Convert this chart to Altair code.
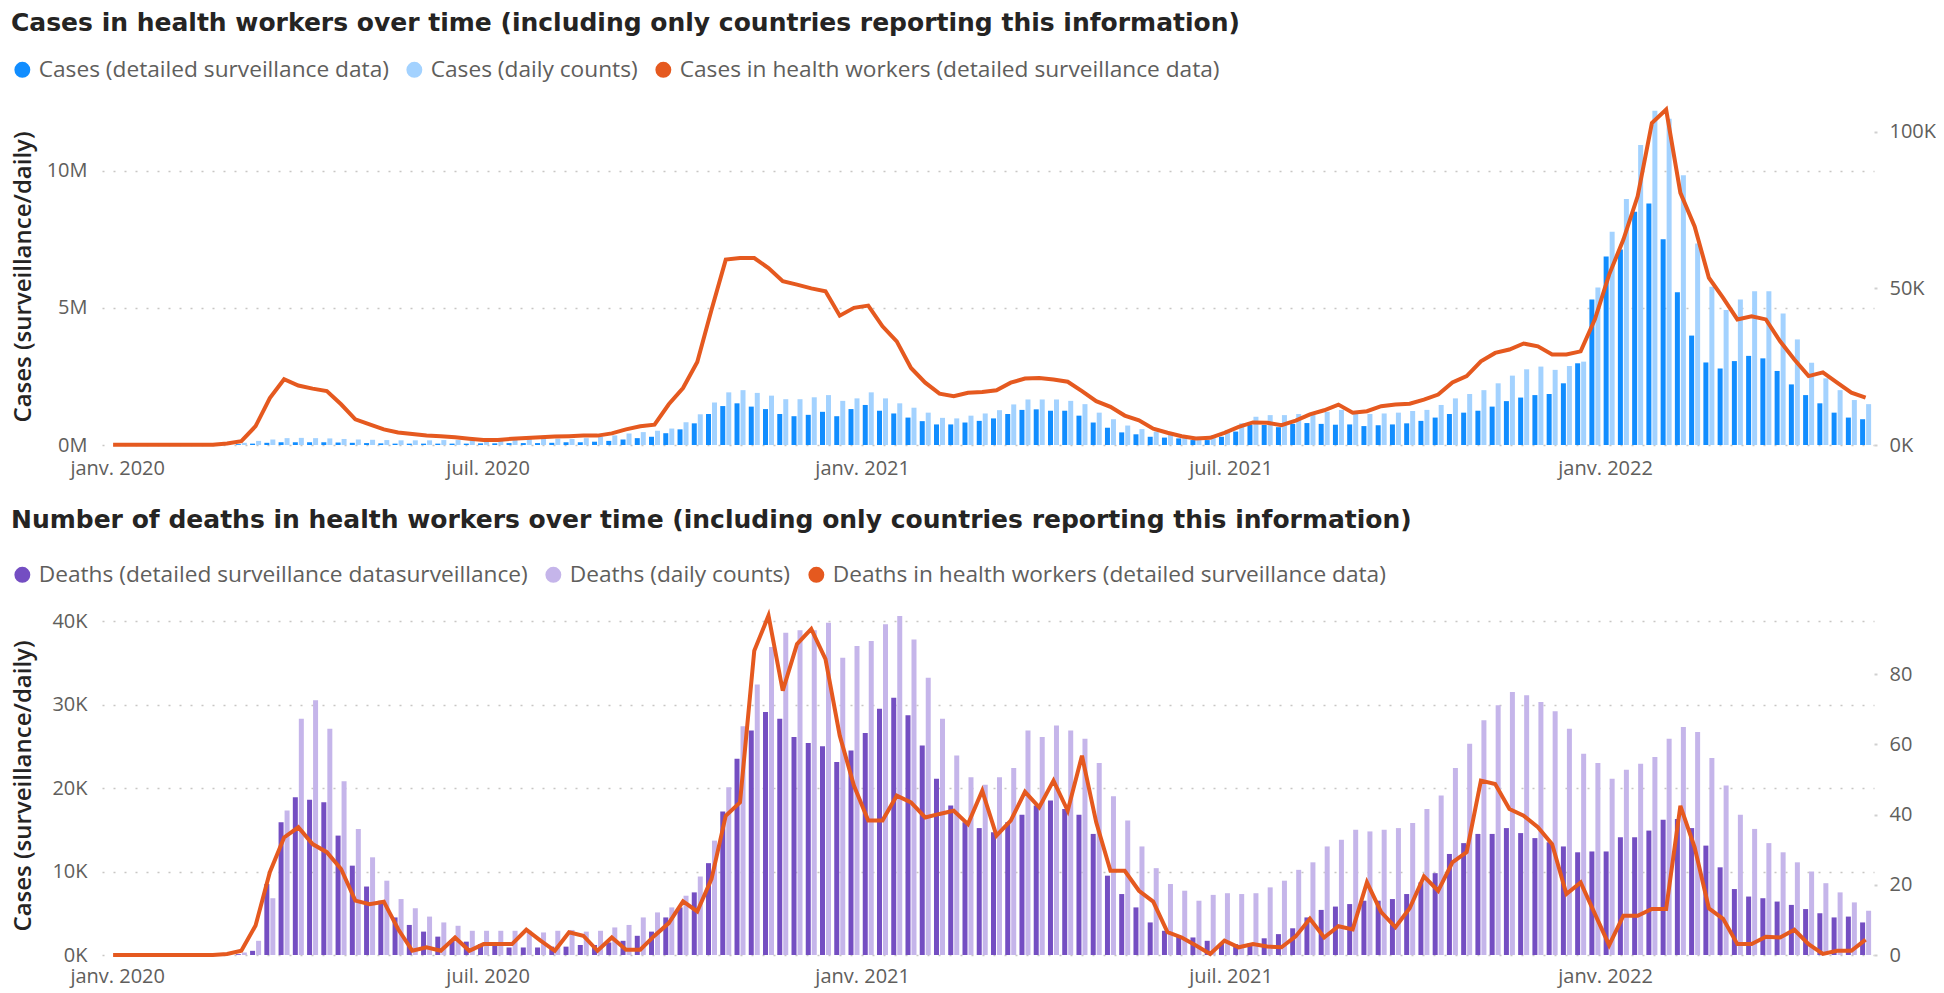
import altair as alt
import pandas as pd

# ---------------- data (weekly, Mondays) ----------------
START_DATE = "2019-12-30"
N_WEEKS = 124

CASES_LABELS = [
    "Cases (detailed surveillance data)",
    "Cases (daily counts)",
    "Cases in health workers (detailed surveillance data)",
]
DEATHS_LABELS = [
    "Deaths (detailed surveillance datasurveillance)",
    "Deaths (daily counts)",
    "Deaths in health workers (detailed surveillance data)",
]

# Cases, detailed surveillance data (millions)
CASES_DETAILED_M = [
    0, 0, 0, 0, 0, 0, 0, 0, 0, 0.03,
    0.05, 0.08, 0.1, 0.1, 0.1, 0.1, 0.09, 0.08, 0.07, 0.06,
    0.05, 0.05, 0.05, 0.05, 0.05, 0.05, 0.06, 0.06, 0.07, 0.07,
    0.07, 0.08, 0.1, 0.1, 0.12, 0.15, 0.2, 0.25, 0.3, 0.43,
    0.57, 0.79, 1.13, 1.42, 1.52, 1.4, 1.31, 1.13, 1.05, 1.1,
    1.21, 1.05, 1.31, 1.46, 1.25, 1.15, 1.0, 0.87, 0.75, 0.75,
    0.82, 0.88, 0.97, 1.13, 1.28, 1.3, 1.25, 1.25, 1.07, 0.82,
    0.63, 0.46, 0.39, 0.3, 0.27, 0.24, 0.18, 0.18, 0.3, 0.49,
    0.73, 0.73, 0.65, 0.77, 0.8, 0.77, 0.74, 0.75, 0.69, 0.72,
    0.75, 0.79, 0.88, 1.0, 1.13, 1.18, 1.25, 1.4, 1.6, 1.73,
    1.82, 1.86, 2.25, 2.98, 5.31, 6.87, 7.13, 8.51, 8.81, 7.5,
    5.57, 3.99, 3.01, 2.79, 3.06, 3.25, 3.16, 2.7, 2.21, 1.82,
    1.52, 1.18, 1.0, 0.94,
]
# Cases, daily counts (millions)
CASES_DAILY_M = [
    0, 0, 0, 0, 0, 0, 0, 0, 0, 0.08,
    0.15, 0.2, 0.25, 0.26, 0.25, 0.24, 0.22, 0.2, 0.19, 0.18,
    0.17, 0.17, 0.17, 0.18, 0.18, 0.19, 0.2, 0.21, 0.22, 0.22,
    0.22, 0.23, 0.22, 0.25, 0.3, 0.35, 0.42, 0.47, 0.52, 0.6,
    0.83, 1.12, 1.55, 1.92, 2.0, 1.9, 1.8, 1.67, 1.67, 1.74,
    1.82, 1.61, 1.7, 1.92, 1.7, 1.52, 1.36, 1.18, 0.99, 0.97,
    1.07, 1.15, 1.27, 1.48, 1.66, 1.66, 1.66, 1.61, 1.49, 1.18,
    0.94, 0.71, 0.58, 0.49, 0.39, 0.34, 0.3, 0.36, 0.55, 0.79,
    1.03, 1.09, 1.09, 1.13, 1.15, 1.21, 1.28, 1.18, 1.13, 1.15,
    1.18, 1.24, 1.28, 1.46, 1.7, 1.86, 2.0, 2.25, 2.53, 2.76,
    2.86, 2.74, 2.88, 3.04, 5.74, 7.78, 8.97, 10.94, 12.19, 11.9,
    9.84, 7.35, 5.77, 4.92, 5.31, 5.61, 5.61, 4.8, 3.85, 3.0,
    2.43, 2.0, 1.64, 1.49,
]
# Cases in health workers (thousands)
CASES_HW_K = [
    0.1, 0.1, 0.1, 0.1, 0.1, 0.1, 0.1, 0.1, 0.5, 1.2,
    6, 15, 21, 19, 18, 17.2, 13, 8.2, 6.6, 5,
    4, 3.5, 3, 2.8, 2.5, 2, 1.6, 1.6, 2, 2.2,
    2.5, 2.7, 2.8, 3, 3, 3.7, 5, 6, 6.5, 13,
    18.2, 26.5, 43.2, 59.2, 59.7, 59.7, 56.5, 52.3, 51.2, 50,
    49.1, 41.3, 43.8, 44.5, 37.9, 33.1, 24.6, 19.9, 16.4, 15.6,
    16.7, 16.9, 17.5, 19.9, 21.2, 21.4, 20.9, 20.2, 17.2, 14,
    12.2, 9.4, 7.9, 5.2, 3.9, 2.8, 2.1, 2.3, 3.9, 5.8,
    7.2, 7.1, 6.3, 7.8, 9.8, 11.1, 12.9, 10.3, 10.8, 12.4,
    12.9, 13.2, 14.5, 16.1, 20, 22, 26.7, 29.4, 30.5, 32.4,
    31.5, 28.9, 28.9, 29.9, 40.1, 54.4, 65.6, 79.4, 102.8, 107.1,
    80.5, 69.8, 53.4, 47, 40.1, 41.1, 40.1, 33.1, 27.3, 22,
    23.2, 19.9, 16.7, 15.1,
]
# Deaths, detailed surveillance data (thousands)
DEATHS_DETAILED_K = [
    0, 0, 0, 0, 0, 0, 0, 0, 0, 0.1,
    0.5, 8.5, 15.9, 18.9, 18.6, 18.3, 14.3, 10.7, 8.2, 6.5,
    4.5, 3.6, 2.8, 2.2, 1.8, 1.6, 1.3, 1.3, 0.9, 0.9,
    0.9, 1.0, 1.0, 1.2, 1.2, 1.5, 1.7, 2.3, 2.8, 4.5,
    5.7, 7.5, 11.0, 17.2, 23.5, 26.9, 29.1, 28.3, 26.1, 25.4,
    25.0, 23.1, 24.5, 26.6, 29.5, 30.8, 28.7, 25.1, 21.1, 17.9,
    15.9, 15.2, 14.7, 15.9, 16.8, 17.9, 18.5, 17.5, 16.8, 14.5,
    9.5, 7.3, 5.7, 3.9, 2.9, 2.3, 2.1, 1.7, 1.4, 1.3,
    1.4, 2.0, 2.5, 3.2, 4.5, 5.4, 5.8, 6.1, 6.5, 6.5,
    6.7, 7.3, 8.7, 9.8, 12.1, 13.4, 14.5, 14.5, 15.2, 14.6,
    14.0, 13.5, 13.0, 12.3, 12.4, 12.4, 14.1, 14.1, 14.9, 16.2,
    16.3, 15.2, 13.1, 10.5, 7.9, 7.0, 6.8, 6.4, 6.0, 5.5,
    5.0, 4.5, 4.6, 3.9,
]
# Deaths, daily counts (thousands)
DEATHS_DAILY_K = [
    0, 0, 0, 0, 0, 0, 0, 0, 0, 0.3,
    1.7, 6.8, 17.3, 28.3, 30.5, 27.1, 20.8, 15.1, 11.7, 8.9,
    6.7, 5.6, 4.6, 3.9, 3.5, 2.9, 2.9, 2.9, 2.9, 2.9,
    2.7, 2.9, 3.0, 2.8, 2.9, 3.3, 3.6, 4.5, 5.1, 5.7,
    7.1, 9.4, 13.7, 20.1, 27.4, 32.4, 36.9, 38.6, 38.9, 38.9,
    39.8, 35.6, 37.0, 37.6, 39.6, 40.6, 37.8, 33.2, 28.3, 23.9,
    21.3, 20.4, 21.3, 22.4, 26.9, 26.1, 27.5, 26.9, 25.9, 23.0,
    19.0, 16.1, 13.0, 10.4, 8.5, 7.7, 6.5, 7.2, 7.4, 7.3,
    7.4, 8.1, 8.9, 10.2, 11.1, 13.0, 13.8, 15.0, 14.8, 15.0,
    15.2, 15.8, 17.5, 19.1, 22.4, 25.3, 28.1, 29.9, 31.5, 31.1,
    30.3, 29.2, 27.1, 24.1, 23.0, 21.1, 22.2, 22.9, 23.7, 25.9,
    27.3, 26.7, 23.6, 20.3, 16.8, 15.1, 13.4, 12.3, 11.1, 10.0,
    8.6, 7.5, 6.3, 5.3,
]
# Deaths in health workers (count)
DEATHS_HW = [
    0, 0, 0, 0, 0, 0, 0, 0, 0.3, 1.2,
    8.4, 23.6, 33.5, 36.4, 31.6, 29.3, 24.5, 15.5, 14.5, 15.2,
    7.4, 1.2, 2.2, 1.2, 5, 1.2, 3.1, 3.1, 3.1, 7.2,
    4.1, 1.2, 6.5, 5.5, 1.2, 5, 1.5, 1.5, 5.5, 9.1,
    15.3, 12.4, 21.7, 39.7, 43.5, 86.7, 96.7, 75.3, 88.6, 92.9,
    84.3, 62.5, 48.2, 38.3, 38.3, 45.4, 43.5, 39.2, 40.2, 41.1,
    37.3, 46.8, 34, 38.3, 46.5, 42.1, 49.7, 41.1, 56.8, 37.8,
    24, 24, 18.3, 15.2, 6.5, 5, 2.7, 0.3, 4.1, 2.2,
    3.1, 2.4, 2.2, 5.3, 10.3, 5, 8.2, 7.3, 20.7, 12.2,
    7.9, 13.3, 22.4, 18.3, 26.4, 29.3, 49.7, 48.7, 41.6, 39.7,
    36.4, 31.6, 17.4, 20.7, 11.7, 2.8, 11.2, 11.2, 13.1, 13.1,
    42.5, 30.7, 13.3, 10.3, 3.1, 3.1, 5.2, 5, 7.2, 3.1,
    0.3, 1.2, 1.2, 4.4,
]

CASES_COLORS = ["#118DFF", "#A3D2FF", "#E5591F"]
DEATHS_COLORS = ["#744EC2", "#C5B5EA", "#E5591F"]

# ---------------- table ----------------
df = pd.DataFrame({
    "date": pd.date_range(START_DATE, periods=N_WEEKS, freq="7D"),
    "cases_detailed": [v * 1e6 for v in CASES_DETAILED_M],
    "cases_daily": [v * 1e6 for v in CASES_DAILY_M],
    "cases_hw": [v * 1e3 for v in CASES_HW_K],
    "deaths_detailed": [v * 1e3 for v in DEATHS_DETAILED_K],
    "deaths_daily": [v * 1e3 for v in DEATHS_DAILY_K],
    "deaths_hw": DEATHS_HW,
})

FONT = "Open Sans"
TITLE_FONT = "DejaVu Sans"
GREY = "#605E5C"
DARK = "#252423"
PLOT_W = 1772


def x_encoding(label_pad):
    axis = alt.Axis(
        values=[alt.DateTime(year=y, month=m, date=1) for y, m in
                [(2020, 1), (2020, 7), (2021, 1), (2021, 7), (2022, 1)]],
        labelExpr="(month(datum.value) == 0 ? 'janv. ' : 'juil. ') + year(datum.value)",
        grid=False, ticks=False, domain=False, labelPadding=label_pad,
        labelFontSize=20, labelColor=GREY, labelFont=FONT, labelFlush=False,
    )
    return alt.X(
        "date:T", title=None, axis=axis,
        scale=alt.Scale(domain=[alt.DateTime(year=2019, month=12, date=27),
                                alt.DateTime(year=2022, month=5, date=10, hours=16)]),
    )


def panel(fields, labels, colors, left_max, left_vals, left_expr, right_max,
          right_vals, right_expr, height, legend_y, title, title_offset,
          x_label_pad):
    x_enc = x_encoding(x_label_pad)
    cscale = alt.Scale(domain=labels, range=colors)
    legend = alt.Legend(
        orient="none", legendX=-91, legendY=legend_y, direction="horizontal",
        title=None, symbolType="circle", symbolSize=254, symbolStrokeWidth=0,
        labelFont=FONT, labelFontSize=22.7, labelColor=GREY, labelLimit=1000,
        labelOffset=5, columnPadding=14, padding=0,
    )
    left_axis = alt.Axis(
        values=left_vals, labelExpr=left_expr, grid=True, ticks=False,
        domain=False, labelPadding=15, title="Cases (surveillance/daily)",
        titleX=-79, titleY=height / 2, titleBaseline="middle",
    )
    right_axis = alt.Axis(
        values=right_vals, labelExpr=right_expr, orient="right", grid=False,
        ticks=True, tickSize=3, tickWidth=2, tickColor="#d0d0d0",
        domain=False, labelPadding=12, title=None,
    )
    lscale = alt.Scale(domain=[0, left_max], nice=False)
    rscale = alt.Scale(domain=[0, right_max], nice=False)
    color = alt.Color("series:N", scale=cscale, legend=legend)
    base = alt.Chart(df)
    dark = base.mark_bar(size=5, xOffset=-3).transform_calculate(
        series=alt.expr.toString(labels[0])
    ).encode(
        x=x_enc,
        y=alt.Y(f"{fields[0]}:Q", scale=lscale, axis=left_axis),
        color=color,
    )
    light = base.mark_bar(size=5, xOffset=3).transform_calculate(
        series=alt.expr.toString(labels[1])
    ).encode(
        x=x_enc,
        y=alt.Y(f"{fields[1]}:Q", scale=lscale, axis=left_axis),
        color=color,
    )
    line = base.mark_line(strokeWidth=4).transform_calculate(
        series=alt.expr.toString(labels[2])
    ).encode(
        x=x_enc,
        y=alt.Y(f"{fields[2]}:Q", scale=rscale, axis=right_axis),
        color=color,
    )
    return alt.layer(alt.layer(dark, light), line).resolve_scale(
        y="independent"
    ).properties(
        width=PLOT_W, height=height,
        title=alt.TitleParams(
            text=title, anchor="start", frame="bounds", font=TITLE_FONT,
            fontSize=25, fontWeight="bold", color=DARK, offset=title_offset,
        ),
    )


top = panel(
    ["cases_detailed", "cases_daily", "cases_hw"], CASES_LABELS, CASES_COLORS,
    12.29e6, [0, 5e6, 10e6], "datum.value / 1000000 + 'M'",
    107600, [0, 50000, 100000], "datum.value / 1000 + 'K'",
    337, -50,
    "Cases in health workers over time (including only countries reporting this information)",
    22, 13,
)
bottom = panel(
    ["deaths_detailed", "deaths_daily", "deaths_hw"], DEATHS_LABELS, DEATHS_COLORS,
    40600, [0, 10000, 20000, 30000, 40000], "datum.value / 1000 + 'K'",
    96.6, [0, 20, 40, 60, 80], "datum.value + ''",
    339, -53,
    "Number of deaths in health workers over time (including only countries reporting this information)",
    30, 11,
)

chart = alt.vconcat(top, bottom, spacing=30).resolve_scale(
    color="independent"
).properties(
    padding={"left": 3, "top": 3, "right": 0, "bottom": 2}
).configure_view(stroke=None).configure_axis(
    gridDash=[2, 9], gridColor="#C8C6C4", gridWidth=1.5,
    labelFont=FONT, labelFontSize=20, labelColor=GREY,
    titleFont=FONT, titleFontSize=24, titleFontWeight=600, titleColor=DARK,
)

chart.save("out.html", embed_options={"renderer": "svg", "actions": False})
